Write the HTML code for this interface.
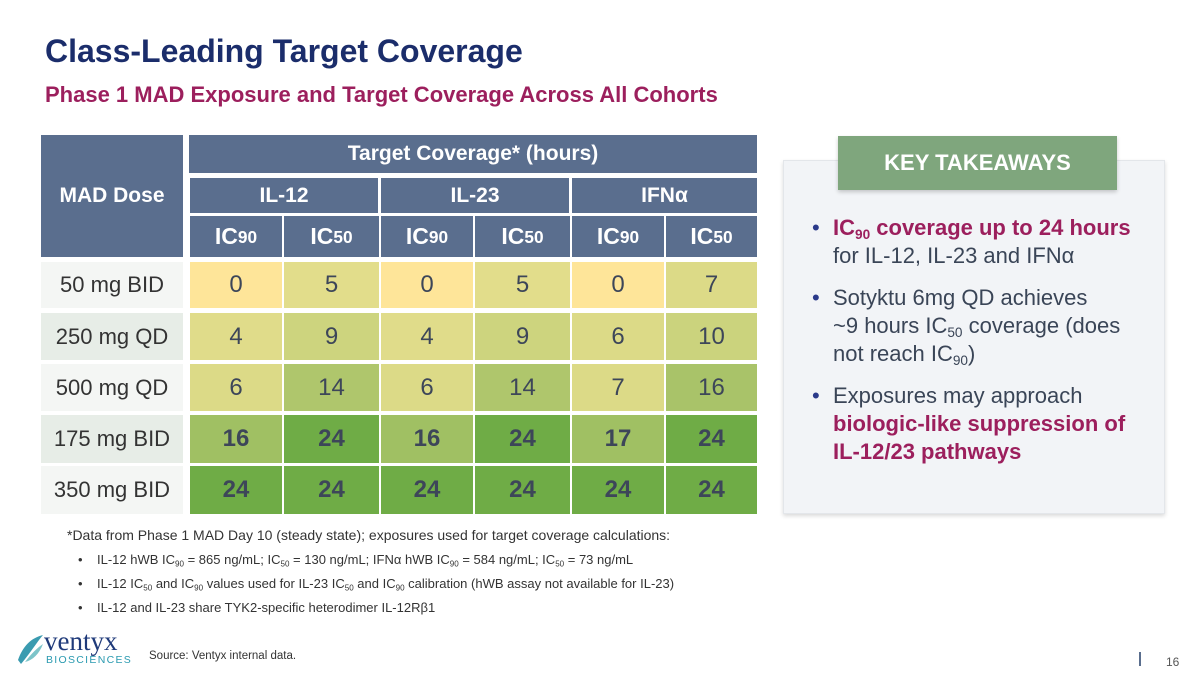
<!DOCTYPE html>
<html><head><meta charset="utf-8"><style>
body{margin:0;width:1200px;height:673px;background:#fff;position:relative;overflow:hidden;font-family:"Liberation Sans",sans-serif}
.a{position:absolute}
.c{position:absolute;display:flex;align-items:center;justify-content:center}
.h{background:#5a6e8e;color:#fff;font-weight:bold;font-size:21px}
.d{font-size:24px;color:#3d4659}
.b{font-weight:bold}
.l{font-size:22px;color:#333}
sub{font-size:62%;vertical-align:-0.3em;line-height:0}
.h sub{font-size:75%}
.fn{font-size:14px;color:#333}
.fb{font-size:13px;color:#333}
</style></head><body>
<div class="a" style="left:45px;top:33px;font-size:32px;font-weight:bold;color:#1b2d6b">Class-Leading Target Coverage</div>
<div class="a" style="left:45px;top:82px;font-size:22px;font-weight:bold;color:#9c1f5d">Phase 1 MAD Exposure and Target Coverage Across All Cohorts</div>

<div class="c h" style="left:41px;top:135px;width:142px;height:122px">MAD Dose</div>
<div class="c h" style="left:189px;top:135px;width:568px;height:38px">Target Coverage* (hours)</div>
<div class="c h" style="left:190px;top:178px;width:188px;height:35px">IL-12</div>
<div class="c h" style="left:381px;top:178px;width:188px;height:35px">IL-23</div>
<div class="c h" style="left:572px;top:178px;width:185px;height:35px">IFNα</div>
<div id="t"></div>

<div class="a" style="left:783px;top:160px;width:380px;height:352px;background:#f2f4f7;border:1px solid #e3e6ea;box-shadow:0 2px 4px rgba(0,0,0,.15)"></div>
<div class="c" style="left:838px;top:136px;width:279px;height:54px;background:#7fa67d;color:#fff;font-weight:bold;font-size:22px;box-shadow:0 2px 4px rgba(0,0,0,.2)">KEY TAKEAWAYS</div>
<div class="a" style="left:812px;top:214px;width:336px;font-size:22px;line-height:28px;color:#3a4557">
<div style="position:relative;padding-left:21px"><span class="a" style="left:0;color:#2b3a8a">•</span><b style="color:#9c1f5d">IC<sub>90</sub> coverage up to 24 hours</b><br>for IL-12, IL-23 and IFNα</div>
<div style="position:relative;padding-left:21px;margin-top:14px"><span class="a" style="left:0;color:#2b3a8a">•</span>Sotyktu 6mg QD achieves<br>~9 hours IC<sub>50</sub> coverage (does<br>not reach IC<sub>90</sub>)</div>
<div style="position:relative;padding-left:21px;margin-top:14px"><span class="a" style="left:0;color:#2b3a8a">•</span>Exposures may approach <b style="color:#9c1f5d">biologic-like suppression of IL-12/23 pathways</b></div>
</div>

<div class="a fn" style="left:67px;top:527px">*Data from Phase 1 MAD Day 10 (steady state); exposures used for target coverage calculations:</div>
<div class="a fb" style="left:78px;top:552px">•&nbsp;&nbsp;&nbsp;&nbsp;IL-12 hWB IC<sub>90</sub> = 865 ng/mL; IC<sub>50</sub> = 130 ng/mL; IFNα hWB IC<sub>90</sub> = 584 ng/mL; IC<sub>50</sub> = 73 ng/mL</div>
<div class="a fb" style="left:78px;top:576px">•&nbsp;&nbsp;&nbsp;&nbsp;IL-12 IC<sub>50</sub> and IC<sub>90</sub> values used for IL-23 IC<sub>50</sub> and IC<sub>90</sub> calibration (hWB assay not available for IL-23)</div>
<div class="a fb" style="left:78px;top:600px">•&nbsp;&nbsp;&nbsp;&nbsp;IL-12 and IL-23 share TYK2-specific heterodimer IL-12Rβ1</div>

<svg class="a" style="left:15px;top:632px" width="30" height="34" viewBox="0 0 30 34"><path d="M3 28 C8 14 16 6 28 3 C22 10 16 20 6 32Z" fill="#3a9bb0"/><path d="M10 30 C16 22 22 16 28 12 C24 22 18 28 10 30Z" fill="#7cc4c9"/></svg>
<div class="a" style="left:44px;top:626px;font-family:'Liberation Serif',serif;font-size:27px;color:#1f3a7a">ventyx</div>
<div class="a" style="left:46px;top:654px;font-size:10.5px;letter-spacing:1.3px;color:#2a9ab0">BIOSCIENCES</div>
<div class="a" style="left:149px;top:650px;font-size:11.5px;color:#333">Source: Ventyx internal data.</div>
<div class="a" style="left:1139px;top:652px;width:2px;height:14px;background:#5a6e8e"></div>
<div class="a" style="left:1166px;top:655px;font-size:12px;color:#555">16</div>

<script>
const xs=[190,284,381,475,572,666],ws=[92,95,92,95,92,91];
const rows=[["50 mg BID",262,46,"#f4f6f4"],["250 mg QD",313,47,"#e7ede7"],["500 mg QD",364,47,"#f4f6f4"],["175 mg BID",415,48,"#e7ede7"],["350 mg BID",466,48,"#f4f6f4"]];
const v=[[0,5,0,5,0,7],[4,9,4,9,6,10],[6,14,6,14,7,16],[16,24,16,24,17,24],[24,24,24,24,24,24]];
const col={0:"#fee599",4:"#e0dc8a",5:"#e2dd8b",6:"#dcda87",7:"#dcda87",9:"#cdd47e",10:"#cbd37d",14:"#afc66c",16:"#a6c267",17:"#a0c063",24:"#6fac46"};
let h="";
for(let i=0;i<6;i++)h+=`<div class="c h" style="left:${xs[i]}px;top:216px;width:${ws[i]}px;height:41px;font-size:23px">IC<sub>${i%2?50:90}</sub></div>`;
rows.forEach((r,j)=>{h+=`<div class="c l" style="left:41px;top:${r[1]}px;width:142px;height:${r[2]}px;background:${r[3]}">${r[0]}</div>`;
for(let i=0;i<6;i++){let c=v[j][i];let cc=col[c];if(j==3&&c==16)cc="#a0c063";if(j==2&&c==16)cc="#a9c369";
h+=`<div class="c d${j>2?' b':''}" style="left:${xs[i]}px;top:${r[1]}px;width:${ws[i]}px;height:${r[2]}px;background:${cc}">${c}</div>`;}});
document.getElementById("t").innerHTML=h;
</script>
</body></html>
